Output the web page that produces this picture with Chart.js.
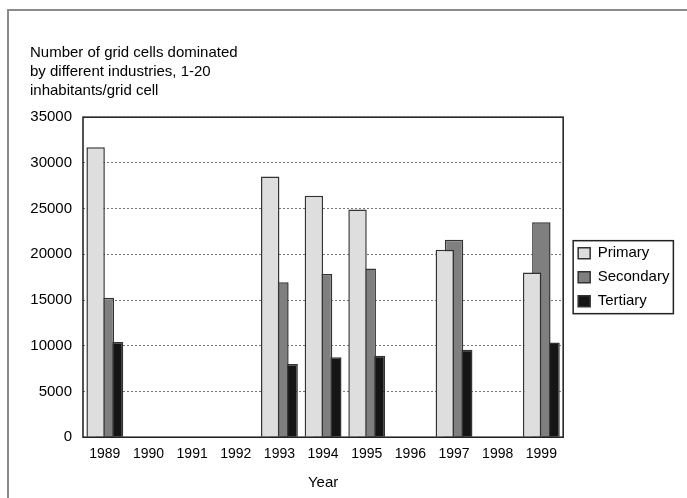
<!DOCTYPE html>
<html>
<head>
<meta charset="utf-8">
<script src="https://cdn.jsdelivr.net/npm/chart.js@4/dist/chart.umd.min.js"></script>
<style>
  html, body { margin: 0; padding: 0; background: #fff; overflow: hidden; }
  #frame { position: absolute; left: 7px; top: 9px; width: 678px; height: 520px; border: 2px solid #8a8a8a; }
  #wrap { position: absolute; left: 0; top: 0; width: 687px; height: 498px; }
</style>
</head>
<body>
<div id="frame"></div>
<div id="wrap"><canvas id="myChart" width="687" height="498"></canvas></div>
<script>
'use strict';

const years = ['1989', '1990', '1991', '1992', '1993', '1994', '1995', '1996', '1997', '1998', '1999'];
const primary = [31700, null, null, null, 28500, 26400, 24900, null, 20500, null, 18000];
const secondary = [15250, null, null, null, 16950, 17850, 18450, null, 21600, null, 23500];
const tertiary = [10400, null, null, null, 8000, 8750, 8900, null, 9550, null, 10350];
const titleLines = ['Number of grid cells dominated', 'by different industries, 1-20', 'inhabitants/grid cell'];

const FONT = '"Liberation Sans", Arial, sans-serif';

// * Box around the plot area, like the old spreadsheet chart.
const plotBox = {
  id: 'plotBox',
  afterDatasetsDraw(chart) {
    const { ctx, chartArea: a } = chart;
    ctx.save();
    ctx.strokeStyle = '#1a1a1a';
    ctx.lineWidth = 1.5;
    ctx.strokeRect(a.left, a.top, a.right - a.left, a.bottom - a.top);
    ctx.restore();
  },
};

// * Frame around the legend items.
const legendBox = {
  id: 'legendBox',
  afterDraw(chart) {
    const boxes = chart.legend && chart.legend.legendHitBoxes;
    if (!boxes || !boxes.length) return;
    const left = Math.min(...boxes.map((b) => b.left)) - 5;
    const top = Math.min(...boxes.map((b) => b.top)) - 5;
    const right = Math.max(...boxes.map((b) => b.left + b.width)) + 4;
    const bottom = Math.max(...boxes.map((b) => b.top + b.height)) + 5;
    const { ctx } = chart;
    ctx.save();
    ctx.strokeStyle = '#222';
    ctx.lineWidth = 1.5;
    ctx.strokeRect(left, top, right - left, bottom - top);
    ctx.restore();
  },
};

const barStyle = { borderWidth: 1.5, borderColor: '#333', categoryPercentage: 0.633, barPercentage: 2.0 };

new Chart(document.getElementById('myChart'), {
  type: 'bar',
  data: {
    labels: years,
    datasets: [
      { label: 'Primary', data: primary, backgroundColor: '#dedede', ...barStyle },
      { label: 'Secondary', data: secondary, backgroundColor: '#7f7f7f', ...barStyle },
      { label: 'Tertiary', data: tertiary, backgroundColor: '#151515', ...barStyle },
    ],
  },
  options: {
    responsive: false,
    animation: false,
    layout: { padding: { left: 30, right: 10, top: 0, bottom: 6 } },
    scales: {
      x: {
        grid: { display: false, drawTicks: false },
        border: { display: false },
        ticks: { color: '#000', font: { family: FONT, size: 14 }, padding: 9, maxRotation: 0 },
        title: { display: true, text: 'Year', color: '#000', font: { family: FONT, size: 15 }, padding: { top: 2, bottom: 0 } },
      },
      y: {
        min: 0,
        max: 35000,
        grid: { color: '#777', drawTicks: false },
        border: { display: false, dash: [2, 2] },
        ticks: {
          stepSize: 5000,
          color: '#000',
          font: { family: FONT, size: 15 },
          padding: 11,
          callback: (value) => String(value),
        },
        // * Keep the labels flush with the title's left edge.
        afterFit(scale) { scale.width = 53; },
      },
      gap: {
        type: 'linear',
        position: 'right',
        display: true,
        grid: { display: false },
        border: { display: false },
        ticks: { display: false },
        afterFit(scale) { scale.width = 6; },
      },
    },
    plugins: {
      title: {
        display: true,
        text: titleLines,
        align: 'start',
        color: '#000',
        font: { family: FONT, size: 15, weight: 'normal', lineHeight: 1.27 },
        padding: { top: 43, bottom: 17 },
      },
      legend: {
        position: 'right',
        fullSize: false,
        labels: {
          color: '#000',
          font: { family: FONT, size: 15 },
          boxWidth: 12,
          boxHeight: 11,
          padding: 9,
        },
      },
      tooltip: { enabled: false },
    },
  },
  plugins: [plotBox, legendBox],
});
</script>
</body>
</html>
